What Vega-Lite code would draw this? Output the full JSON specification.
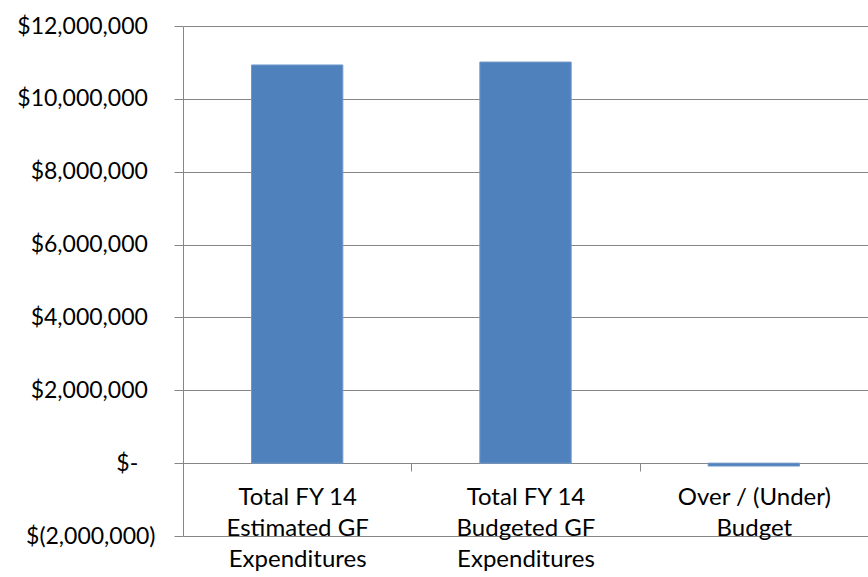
{
  "$schema": "https://vega.github.io/schema/vega-lite/v6.json",
  "width": 685,
  "height": 510,
  "autosize": "none",
  "padding": {"left": 183, "top": 26, "right": 0, "bottom": 41},
  "background": "white",
  "config": {
    "view": {"stroke": null},
    "font": "Lato"
  },
  "data": {
    "values": [
      {"category": "Total FY 14\nEstimated GF\nExpenditures", "amount": 10930000},
      {"category": "Total FY 14\nBudgeted GF\nExpenditures", "amount": 11010000},
      {"category": "Over / (Under)\nBudget", "amount": -80000}
    ]
  },
  "mark": {"type": "bar", "color": "#4F81BD", "stroke": "#7097C9", "strokeWidth": 1, "width": {"band": 0.4}},
  "encoding": {
    "x": {
      "field": "category",
      "type": "nominal",
      "sort": null,
      "scale": {"paddingInner": 0, "paddingOuter": 0},
      "axis": {
        "title": null,
        "labelAngle": 0,
        "offset": -73,
        "domainColor": "#868686",
        "tickColor": "#868686",
        "tickSize": 8,
        "tickBand": "extent",
        "grid": false,
        "labelFont": "Lato",
        "labelFontSize": 24,
        "labelColor": "#000000",
        "labelLineHeight": 31,
        "labelPadding": 14,
        "labelExpr": "datum.value ? split(datum.value, '\\n') : ''"
      }
    },
    "y": {
      "field": "amount",
      "type": "quantitative",
      "scale": {"domain": [-2000000, 12000000], "nice": false, "zero": false},
      "axis": {
        "title": null,
        "values": [-2000000, 0, 2000000, 4000000, 6000000, 8000000, 10000000, 12000000],
        "grid": true,
        "gridColor": "#868686",
        "gridOpacity": 1,
        "domainColor": "#868686",
        "tickColor": "#868686",
        "tickSize": 9,
        "labelFont": "Lato",
        "labelFontSize": 23,
        "labelColor": "#000000",
        "labelPadding": 19,
        "labelExpr": "datum.value == 0 ? '$-\u2002\u2005\u200b' : (datum.value < 0 ? '$(' + format(-datum.value, ',') + ')' : '$' + format(datum.value, ',') + '\u2004\u200b')"
      }
    }
  }
}
